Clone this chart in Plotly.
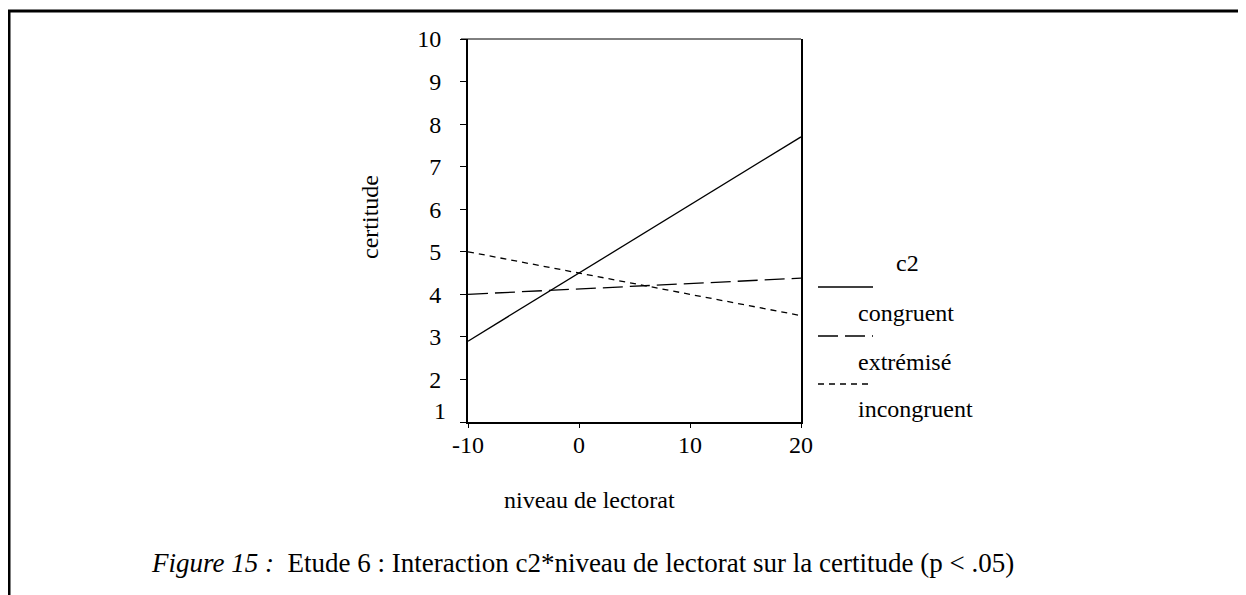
import plotly.graph_objects as go

# reading level (x) and certainty values
niveau = [-10, 20]
congruent = [2.9, 7.7]
extremise = [4.0, 4.38]
incongruent = [5.0, 3.5]

series_names = ["congruent", "extrémisé", "incongruent"]
y_ticks = [1, 2, 3, 4, 5, 6, 7, 8, 9, 10]
x_ticks = [-10, 0, 10, 20]
x_labels = ["-10", "0", "10", "20"]

FONT = "Liberation Serif, Times New Roman, serif"
OFF = 8  # page body margin
W, H = 1246 - OFF, 595 - OFF
L, T = 468 - OFF, 39 - OFF
R = W - (801 - OFF)
B = H - (422 - OFF)
PW, PH = W - L - R, H - T - B


# helpers: screen pixel -> paper coordinate
def px_x(p):
    return (p - OFF - L) / PW


def px_y(p):
    return (H - B - (p - OFF)) / PH


dashes = ["solid", "20px,7px", "6px,5px"]

fig = go.Figure()
for name, vals, dash in zip(series_names, [congruent, extremise, incongruent], dashes):
    fig.add_trace(go.Scatter(x=niveau, y=vals, mode="lines", name=name,
                             line=dict(color="black", width=1.3, dash=dash),
                             showlegend=False))

fig.update_layout(
    width=W, height=H,
    margin=dict(l=L, r=R, t=T, b=B),
    paper_bgcolor="white", plot_bgcolor="white",
    font=dict(family=FONT, size=24, color="black"),
    xaxis=dict(range=[-10, 20], tickvals=x_ticks, ticktext=x_labels,
               showgrid=False, zeroline=False,
               showline=True, linecolor="black", linewidth=2,
               ticks="outside", ticklen=4, tickcolor="black",
               tickfont=dict(size=24), ticklabelstandoff=-4),
    yaxis=dict(range=[1, 10], tickvals=y_ticks,
               ticktext=[""] + [str(v) for v in y_ticks[1:]],
               showgrid=False, zeroline=False,
               showline=True, linecolor="black", linewidth=2, mirror=True,
               ticks="outside", ticklen=6, tickcolor="black", tickwidth=1,
               tickfont=dict(size=24), ticklabelstandoff=14),
)

# top thin line of the frame
fig.add_shape(type="line", xref="paper", yref="paper", x0=px_x(461), x1=1.0,
              y0=1.0, y1=1.0, line=dict(color="black", width=1))

# the "1" label sits above its tick
fig.add_annotation(x=0, xref="paper", y=1, yref="y", text="1", showarrow=False,
                   xanchor="right", yanchor="middle", xshift=-20, yshift=11,
                   font=dict(size=24))


def label(text, x, y, anchor="center", angle=0, size=24):
    fig.add_annotation(x=px_x(x), y=px_y(y), xref="paper", yref="paper",
                       text=text, showarrow=False, textangle=angle,
                       xanchor=anchor, yanchor="middle", font=dict(size=size))


# axis titles
label("niveau de lectorat", 589, 500)
label("certitude", 370, 217, angle=-90)

# hand-drawn legend
label("c2", 907, 263)
leg_line_y = [287, 336, 384]
leg_text_y = [313, 362, 409]
for name, dash, ly, ty in zip(series_names, dashes, leg_line_y, leg_text_y):
    fig.add_shape(type="line", xref="paper", yref="paper",
                  x0=px_x(818), x1=px_x(873), y0=px_y(ly), y1=px_y(ly),
                  line=dict(color="black", width=1.3, dash=dash))
    label(name, 856, ty, anchor="left")

# caption
label("<i>Figure 15 :</i>  Etude 6 : Interaction c2*niveau de lectorat sur la certitude (p < .05)",
      582, 563, size=27)

# page frame (left and top edges)
fig.add_shape(type="line", xref="paper", yref="paper", x0=px_x(9), x1=px_x(9),
              y0=px_y(10), y1=px_y(600), line=dict(color="black", width=3))
fig.add_shape(type="line", xref="paper", yref="paper", x0=px_x(8), x1=px_x(1250),
              y0=px_y(11), y1=px_y(11), line=dict(color="black", width=3))

fig.write_html("out.html")
